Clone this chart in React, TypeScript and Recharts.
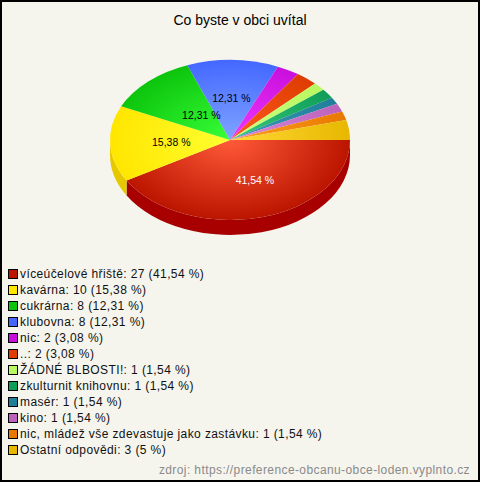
import React from "react";
import { PieChart, Pie, Sector, Legend } from "recharts";

const categories = ["víceúčelové hřiště", "kavárna", "cukrárna", "klubovna", "nic", "..", "ŽÁDNÉ BLBOSTI!", "zkulturnit knihovnu", "masér", "kino", "nic, mládež vše zdevastuje jako zastávku", "Ostatní odpovědi"];
const counts = [27, 10, 8, 8, 2, 2, 1, 1, 1, 1, 1, 3];
const percentLabels = ["41,54", "15,38", "12,31", "12,31", "3,08", "3,08", "1,54", "1,54", "1,54", "1,54", "1,54", "5"];
// slice sizes (percent of the circle)
const sliceShares = [41.54, 15.38, 12.31, 12.31, 3.06, 2.95, 1.67, 1.94, 1.39, 1.67, 1.8, 4.0];
const edgeColors = ["#BB1500", "#FFE600", "#0CC40C", "#4468FF", "#C80FDC", "#DE3C00", "#B8F860", "#0E9E58", "#1F7F98", "#BC62BC", "#E87800", "#E8B800"];
const centerColors = ["#FF5A38", "#FFFF30", "#38FF38", "#80A4FF", "#F038FF", "#FF5A20", "#D0FF80", "#38C878", "#3C9CB8", "#DC88DC", "#FFA020", "#FFD838"];
const wallColors = ["#A80000", "#E6C800", "#0A9A0A", "#2A48C8", "#A000B0", "#B03000", "#90C840", "#0A7A40", "#105E78", "#904890", "#B85C00", "#B89000"];

const W = 480;
const H = 482;
const CX = 230;
const CY = 140;
const R = 120;
const TILT = 2 / 3;
const DEPTH = 15;

const tableData = categories.map((name, i) => ({
  name,
  text: `${name}: ${counts[i]} (${percentLabels[i]} %)`,
  value: sliceShares[i],
  percentLabel: percentLabels[i],
  fill: edgeColors[i],
  order: i,
}));

const FaceShape = (p: any) => {
  const t = `translate(0 ${p.cy}) scale(1 ${TILT}) translate(0 ${-p.cy})`;
  return (
    <g transform={t}>
      <Sector cx={p.cx} cy={p.cy} innerRadius={0} outerRadius={p.outerRadius} startAngle={p.startAngle} endAngle={p.endAngle} fill={`url(#face${p.order})`} stroke="none" />
    </g>
  );
};

const WallShape = (p: any) => {
  const a = Math.max(0, Math.min(-p.startAngle, -p.endAngle));
  const b = Math.min(180, Math.max(-p.startAngle, -p.endAngle));
  if (b <= a) return <g />;
  const rx = p.outerRadius;
  const ry = rx * TILT;
  const pt = (d: number) => [p.cx + rx * Math.cos((d * Math.PI) / 180), p.cy + ry * Math.sin((d * Math.PI) / 180)];
  const [x1, y1] = pt(a);
  const [x2, y2] = pt(b);
  const d = `M${x1} ${y1} A${rx} ${ry} 0 0 1 ${x2} ${y2} L${x2} ${y2 + DEPTH} A${rx} ${ry} 0 0 0 ${x1} ${y1 + DEPTH} Z`;
  return <path d={d} fill={wallColors[p.order]} stroke="none" />;
};

// radial reach of each printed label, horizontally and vertically, as a fraction of the radius
const labelReach: Record<number, [number, number]> = {
  0: [0.79, 0.52],
  1: [0.49, 0.5],
  2: [0.35, 0.42],
  3: [0.52, 0.53],
};

const renderLabel = (p: any) => {
  const i = p.order;
  const reach = labelReach[i];
  if (!reach) return null;
  const rad = (p.midAngle * Math.PI) / 180;
  const x = p.cx + p.outerRadius * reach[0] * Math.cos(rad);
  const y = p.cy - p.outerRadius * TILT * reach[1] * Math.sin(rad);
  return (
    <text x={x} y={y} textAnchor="middle" dominantBaseline="central" fontFamily="Liberation Sans" fontSize={10.5} fill={i === 0 ? "#FFFFFF" : "#000000"}>
      {p.percentLabel} %
    </text>
  );
};

const LegendList = (props: any) => (
  <div style={{ margin: 0, padding: 0 }}>
    {(props.payload || []).filter((e: any) => e.type !== "none").map((e: any, i: number) => (
      <div key={i} style={{ height: 16, position: "relative", fontFamily: "Liberation Sans", fontSize: 12, letterSpacing: 0.4, color: "#111", lineHeight: "16px", whiteSpace: "nowrap" }}>
        <span style={{ position: "absolute", left: 0, top: 3, width: 8, height: 8, border: "1px solid #000", background: edgeColors[i] }} />
        <span style={{ position: "absolute", left: 12, top: 0 }}>{e.payload?.text ?? e.value}</span>
      </div>
    ))}
  </div>
);

export default function App() {
  return (
    <div style={{ position: "absolute", left: 0, top: 0, width: W, height: H, background: "#F5F5EE", boxSizing: "border-box", border: "2px solid #000", borderRight: "2px solid #000", borderBottom: "2px solid #000" }}>
      <PieChart width={W} height={H} margin={{ top: 0, right: 0, bottom: 0, left: 0 }} style={{ position: "absolute", left: -2, top: -2 }}>
        <defs>
          {categories.map((_, i) => (
            <radialGradient key={i} id={`face${i}`} gradientUnits="userSpaceOnUse" cx={CX} cy={CY} r={R}>
              <stop offset="0%" stopColor={centerColors[i]} />
              <stop offset="100%" stopColor={edgeColors[i]} />
            </radialGradient>
          ))}
        </defs>
        <text x={240} y={25} textAnchor="middle" fontFamily="Liberation Sans" fontSize={14} fill="#000">Co byste v obci uvítal</text>
        <Pie data={tableData} dataKey="value" cx={CX} cy={CY} outerRadius={R} startAngle={0} endAngle={-360} isAnimationActive={false} legendType="none" shape={WallShape} label={false} labelLine={false} stroke="none" />
        <Pie data={tableData} dataKey="value" nameKey="name" cx={CX} cy={CY} outerRadius={R} startAngle={0} endAngle={-360} isAnimationActive={false} shape={FaceShape} label={renderLabel} labelLine={false} stroke="none" />
        <Legend layout="horizontal" align="left" verticalAlign="bottom" itemSorter={null} content={LegendList} wrapperStyle={{ left: 8, top: 266, bottom: "auto", width: 460 }} />
        <text x={470} y={474} textAnchor="end" fontFamily="Liberation Sans" fontSize={12} letterSpacing={0.4} fill="#8A8A8A">zdroj: https://preference-obcanu-obce-loden.vyplnto.cz</text>
      </PieChart>
    </div>
  );
}
